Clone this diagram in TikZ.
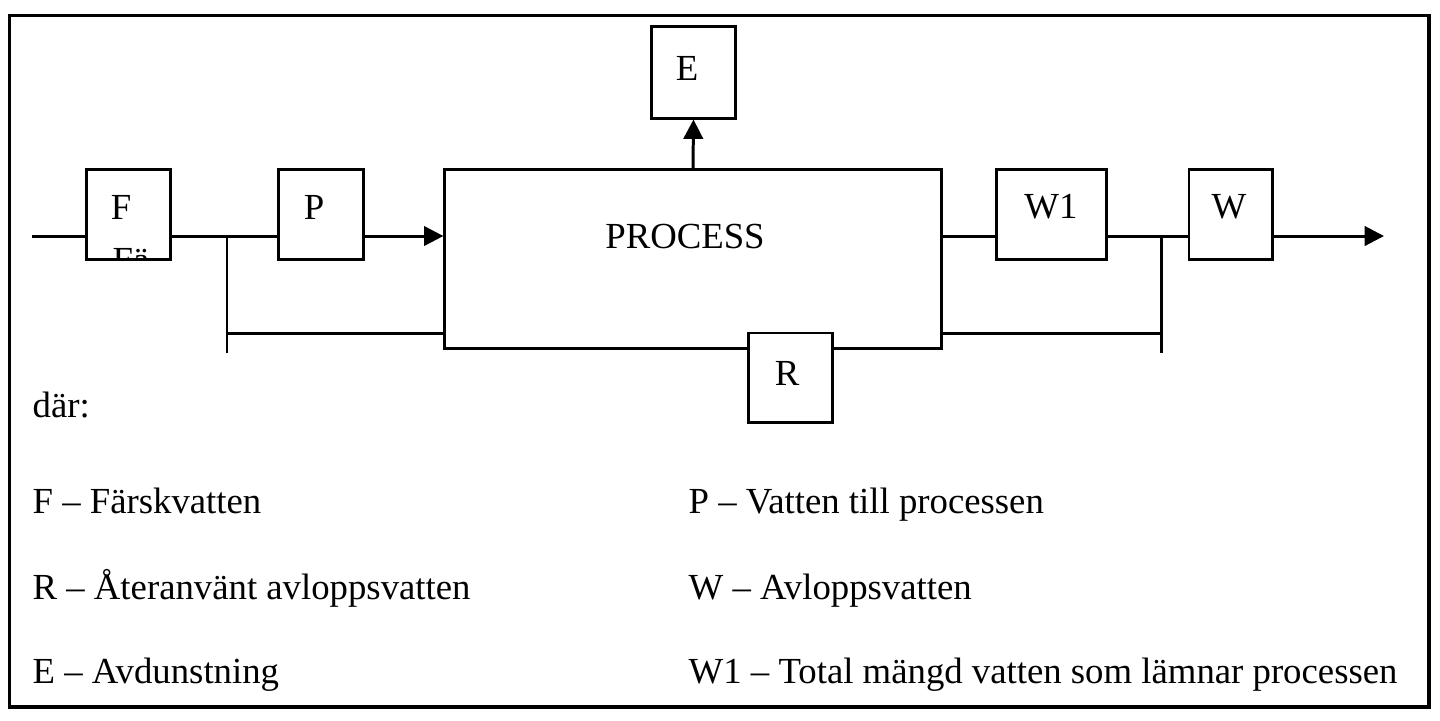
\documentclass[tikz,border=0pt]{standalone}
\usepackage{fontspec}
\setmainfont{Liberation Serif}
\usetikzlibrary{arrows.meta, positioning}
\tikzset{
	flowbox/.style={draw, line width=0.85pt, fill=white, inner sep=0pt},
	boxtext/.style={font=\fontsize{10.45pt}{12pt}\selectfont, inner sep=0pt}
}
\tikzset{
	legendtext/.style={font=\fontsize{10.45pt}{12pt}\selectfont, anchor=base west, inner sep=0pt}
}
\tikzset{
	flow/.style={line width=0.85pt},
	flowarrow/.style={line width=0.85pt, -{Triangle[length=5.5pt, width=5.5pt]}}
}

\begin{document}
\begin{tikzpicture}[x=0.01cm, y=-0.01cm]
      \useasboundingbox (0,0) rectangle (1440,720);
      \draw[line width=0.9pt] (9.5,15.5) rectangle (1429,707);
      % boxes
      \node[flowbox, minimum width=0.83cm, minimum height=0.89cm] (F) at (128.5,214.5) {};
      \node[flowbox, minimum width=0.84cm, minimum height=0.89cm] (P) at (321,214.5) {};
      \node[flowbox, minimum width=4.96cm, minimum height=1.78cm] (proc) at (693,259) {};
      \node[flowbox, minimum width=0.83cm, minimum height=0.91cm] (E) at (693.5,72.5) {};
      \node[flowbox, minimum width=1.09cm, minimum height=0.89cm] (W1) at (1051.5,214.5) {};
      \node[flowbox, minimum width=0.83cm, minimum height=0.89cm] (W) at (1230.5,214.5) {};
      % box texts
      \node[boxtext] (Ft) at (121,207) {F};
      \node[boxtext] (Pt) at (314,207) {P};
      \node[boxtext] (proct) at (685,236) {PROCESS};
      \node[boxtext] (Et) at (687,68) {E};
      \node[boxtext] (W1t) at (1051,207) {W1};
      \node[boxtext] (Wt) at (1229,207) {W};
      \begin{scope}
        \clip (F.north west) rectangle (F.south east);
        \node[legendtext] (Fcut) at (112,272) {Fä};
      \end{scope}
      % main line
      \coordinate (in) at (32,236);
      \coordinate (jl) at (227,236);
      \coordinate (jlb) at (227,353);
      \coordinate (jlr) at (227,333);
      \coordinate (jr) at (1161,236);
      \coordinate (jrb) at (1161,353);
      \coordinate (jrr) at (1161,333);
      \coordinate (out) at (1384,236);
      \draw[flow] (in) -- (in -| F.west);
      \draw[flow] (in -| F.east) -- (in -| P.west);
      \draw[flowarrow] (in -| P.east) -- (in -| proc.west);
      \draw[flow] (jl) -- (jlb);
      \draw[flow] (jlr) -- (jlr -| proc.west);
      \draw[flowarrow] (proc.north) -- (E.south);
      \draw[flow] (in -| proc.east) -- (in -| W1.west);
      \draw[flow] (in -| W1.east) -- (in -| W.west);
      \draw[flow] (jr) -- (jrb);
      \draw[flow] (jrr -| proc.east) -- (jrr);
      \draw[flowarrow] (in -| W.east) -- (out);
      % R box on the bottom edge
      \node[flowbox, minimum width=0.83cm, minimum height=0.89cm] (R) at (790.5,377.5) {};
      \node[boxtext] (Rt) at (787,373) {R};
      % legend
      \node[legendtext] (dar) at (32,417) {där:};
      \foreach \x/\y/\n/\t in {32/513/lF/F – Färskvatten, 32/599/lR/R – Återanvänt avloppsvatten, 32/683/lE/E – Avdunstning,
        688/513/lP/P – Vatten till processen, 688/599/lW/W – Avloppsvatten, 688/683/lWa/W1 – Total mängd vatten som lämnar processen}
        {\node[legendtext] (\n) at (\x,\y) {\t};}
    \end{tikzpicture}
\end{document}
